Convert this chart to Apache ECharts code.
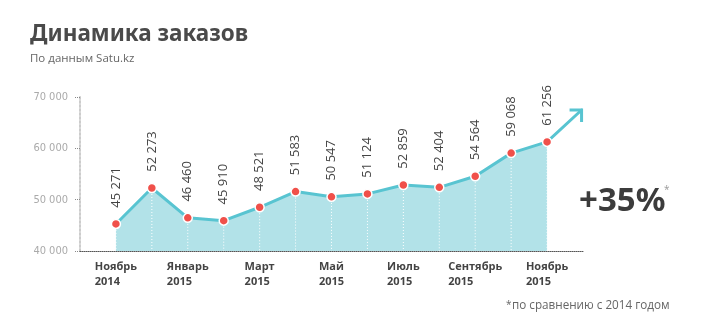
<!DOCTYPE html>
<html><head><meta charset="utf-8">
<script src="https://cdn.jsdelivr.net/npm/echarts@6/dist/echarts.min.js"></script>
<style>html,body{margin:0;padding:0;background:#fff}#c{width:702px;height:336px}</style>
</head><body><div id="c"></div>
<script>
const months = ['Ноябрь\n2014','Декабрь\n2014','Январь\n2015','Февраль\n2015','Март\n2015','Апрель\n2015','Май\n2015','Июнь\n2015','Июль\n2015','Август\n2015','Сентябрь\n2015','Октябрь\n2015','Ноябрь\n2015'];
const orders = [45271, 52273, 46460, 45910, 48521, 51583, 50547, 51124, 52859, 52404, 54564, 59068, 61256];
const yTicks = [40000, 50000, 60000, 70000];
const arrowEnd = [12.96, 67470];
const growthText = '+35%';

const fmt = v => String(v).replace(/\B(?=(\d{3})+(?!\d))/g, ' ');
const pts = orders.map((v, i) => [i, v]);
const LINE = '#58c4d1';
const chart = echarts.init(document.getElementById('c'), null, {renderer: 'canvas'});
chart.setOption({
  animation: false,
  grid: {left: 80, right: 119, top: 97, bottom: 85},
  xAxis: {
    type: 'value', min: -1, max: 13, interval: 1,
    axisLine: {show: true, onZero: false, lineStyle: {color: '#555', type: 'dotted', width: 1}},
    axisTick: {show: false}, splitLine: {show: false},
    axisLabel: {
      margin: 8, showMinLabel: true, showMaxLabel: true,
      formatter: v => (v >= 0 && v <= 12 && v % 2 === 0) ? months[v].split('\n').map(s => '{a|' + s + '}').join('\n') : '',
      rich: {a: {fontFamily: 'Open Sans', fontWeight: 'bold', fontSize: 11, color: '#444', lineHeight: 15, align: 'left'}}
    }
  },
  yAxis: {
    type: 'value', min: yTicks[0], max: yTicks[yTicks.length - 1], interval: 10000,
    axisLine: {show: true, onZero: false, lineStyle: {color: '#ccc', type: 'dotted', width: 2}},
    axisTick: {show: true, length: 5, inside: false, lineStyle: {color: '#888', type: [1, 1], width: 1}},
    splitLine: {show: false},
    axisLabel: {margin: 12, color: '#aaa', fontFamily: '"Liberation Sans Narrow", "DejaVu Sans Condensed", "Open Sans"', fontSize: 11, formatter: v => fmt(v)}
  },
  series: [
    {
      type: 'line', data: pts, symbol: 'none', z: 1,
      lineStyle: {width: 0, opacity: 0},
      areaStyle: {color: '#b2e2e8', opacity: 1}
    },
    {
      type: 'custom', z: 2, data: pts, silent: true,
      renderItem: (params, api) => {
        const a = api.coord([api.value(0), api.value(1)]);
        const b = api.coord([api.value(0), yTicks[0]]);
        return {type: 'line', shape: {x1: a[0], y1: a[1], x2: b[0], y2: b[1]}, style: {stroke: '#fff', lineWidth: 1, lineDash: [1, 2]}};
      }
    },
    {
      type: 'custom', z: 3,
      data: [[orders.length - 1, orders[orders.length - 1], arrowEnd[0], arrowEnd[1]]],
      renderItem: (params, api) => {
        const a = api.coord([api.value(0), api.value(1)]);
        const b = api.coord([api.value(2), api.value(3)]);
        const L = 12;
        return {type: 'group', children: [
          {type: 'line', shape: {x1: a[0], y1: a[1], x2: b[0], y2: b[1]}, style: {stroke: LINE, lineWidth: 3, lineCap: 'round'}},
          {type: 'polyline', shape: {points: [[b[0] - L, b[1]], [b[0], b[1]], [b[0], b[1] + L]]}, style: {stroke: LINE, lineWidth: 3, fill: null, lineJoin: 'miter'}}
        ]};
      }
    },
    {
      type: 'line', data: pts, symbol: 'circle', symbolSize: 9, z: 4,
      lineStyle: {color: LINE, width: 3},
      itemStyle: {color: '#f0504a', borderColor: '#fff', borderWidth: 1.5},
      label: {show: true, position: 'top', distance: 11, rotate: 90, align: 'left', verticalAlign: 'middle',
        color: '#444', fontFamily: 'Open Sans', fontSize: 13, formatter: p => fmt(p.value[1])}
    }
  ],
  graphic: [
    {type: 'text', left: 30, top: 23, style: {text: 'Динамика заказов', font: 'bold 22.5px "Noto Sans"', fill: '#4a4a4a'}},
    {type: 'text', left: 30, top: 53, style: {text: 'По данным Satu.kz', font: '11.5px "Open Sans"', fill: '#666'}},
    {type: 'text', left: 579, top: 185, style: {text: growthText, font: 'bold 33px "Noto Sans"', fill: '#3c3c3c'}},
    {type: 'text', left: 664, top: 185, style: {text: '*', font: '10px "Open Sans"', fill: '#999'}},
    {type: 'text', left: 506, top: 300, style: {text: '*', font: '10px "Open Sans"', fill: '#666'}},
    {type: 'text', left: 512, top: 300, style: {text: 'по сравнению с 2014 годом', font: '11.7px "Open Sans"', fill: '#666'}}
  ]
});
</script></body></html>
